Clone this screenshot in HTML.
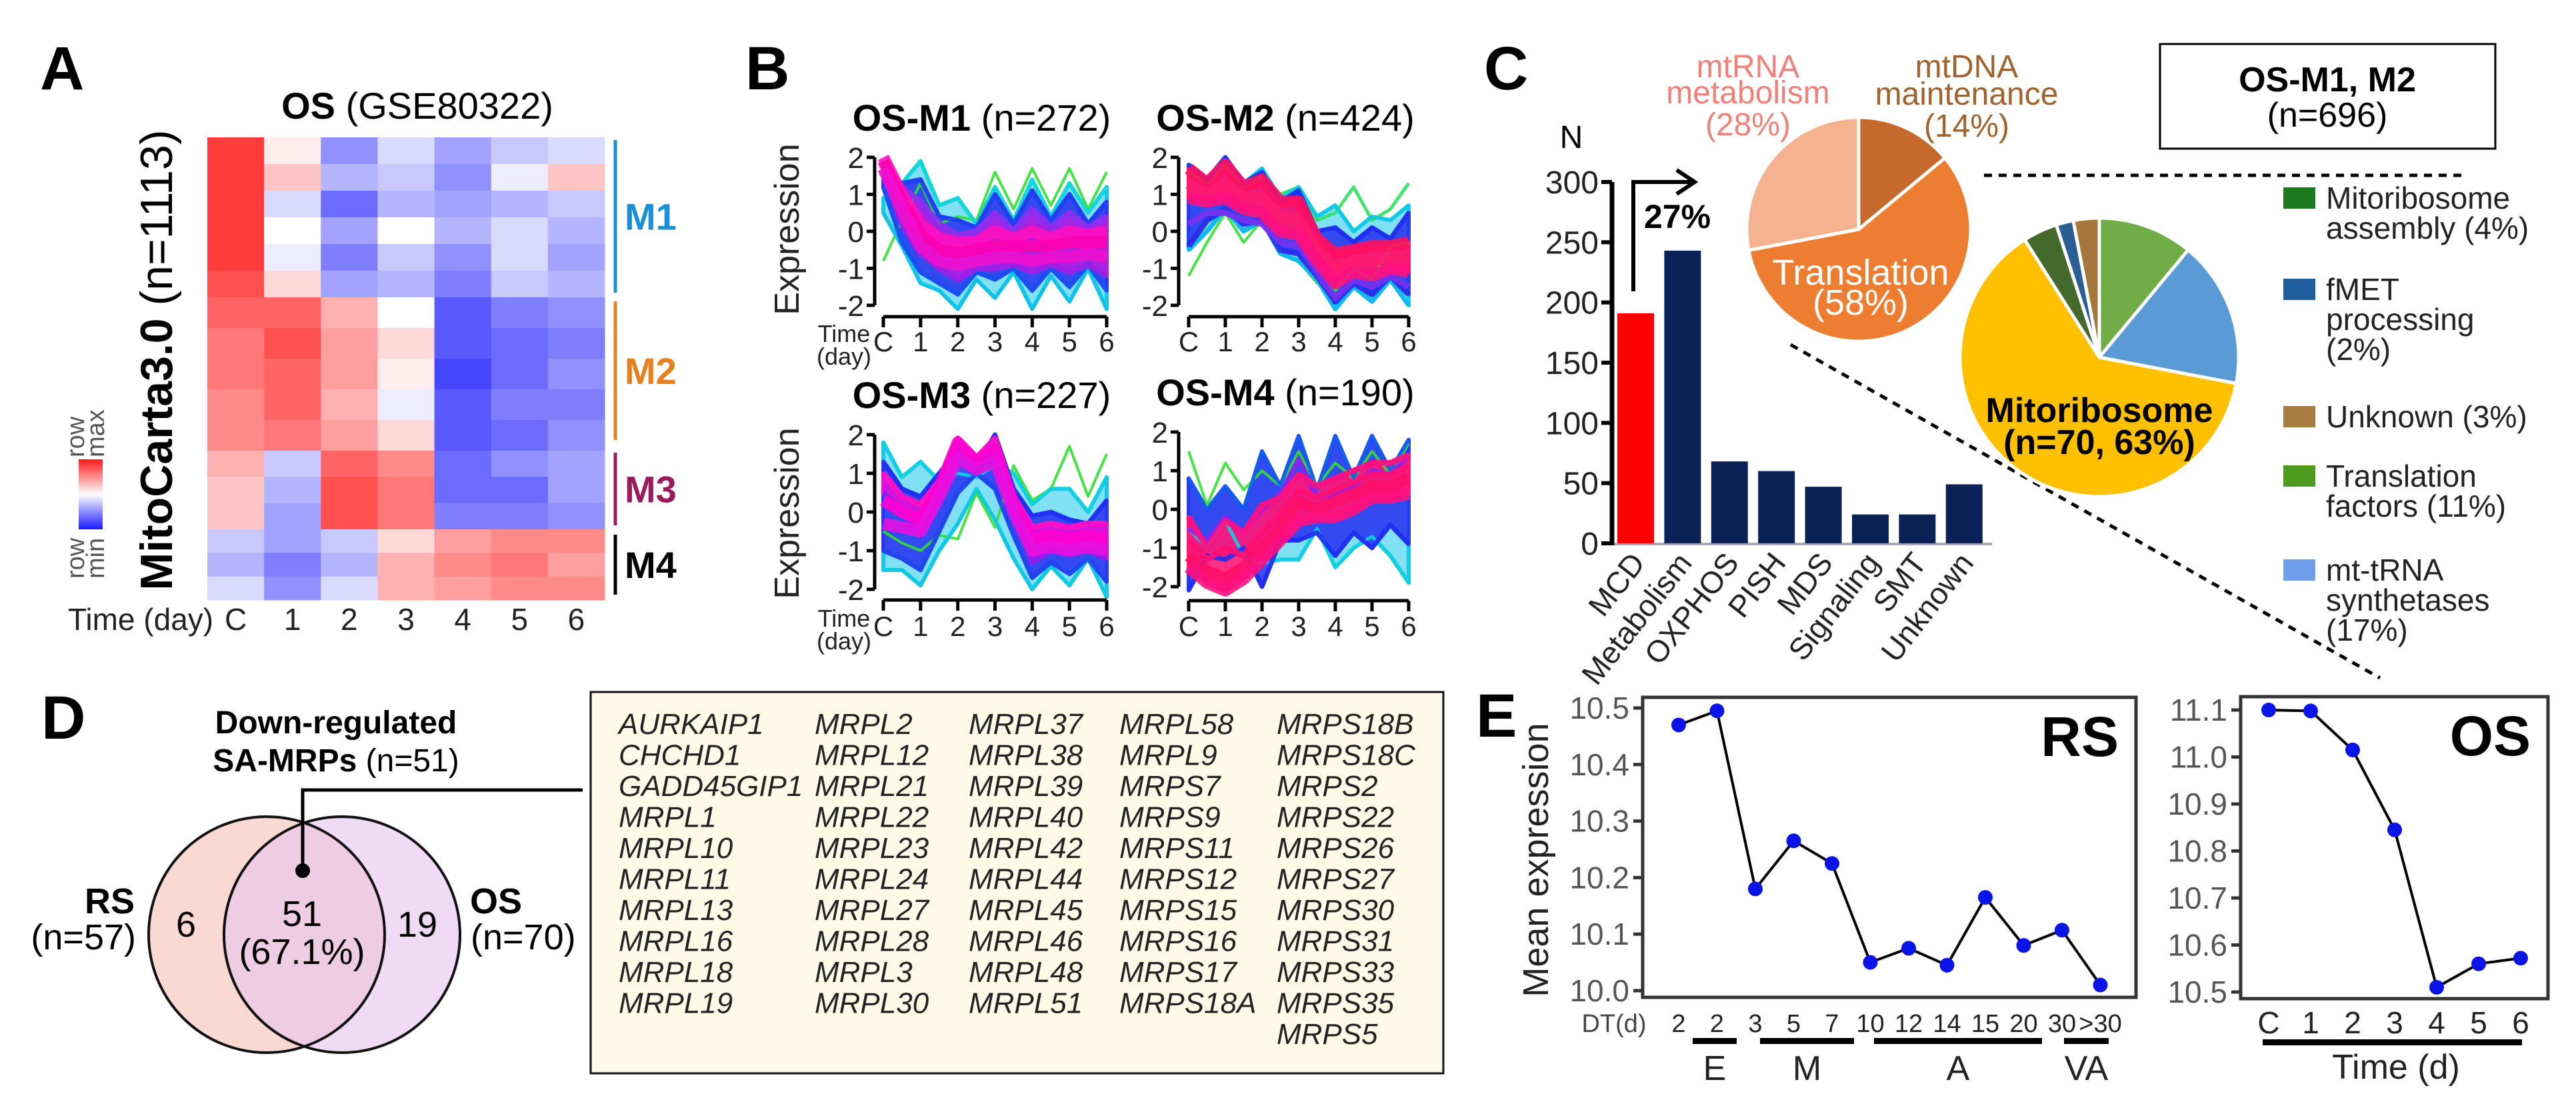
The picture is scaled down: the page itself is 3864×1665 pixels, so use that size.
<!DOCTYPE html>
<html><head><meta charset="utf-8"><title>Figure</title>
<style>
html,body{margin:0;padding:0;background:#fff;}
svg{display:block;font-family:"Liberation Sans",Arial,sans-serif;}
</style></head>
<body>
<svg id="fig" width="3864" height="1665" viewBox="0 0 3864 1665" xmlns="http://www.w3.org/2000/svg">
<defs>
<linearGradient id="cbar" x1="0" y1="0" x2="0" y2="1">
<stop offset="0" stop-color="#ff1a1a"/><stop offset="0.5" stop-color="#ffffff"/><stop offset="1" stop-color="#1a1aff"/>
</linearGradient>
</defs>
<g font-weight="bold" font-size="92" fill="#000">
<text x="60" y="134">A</text>
<text x="1118" y="134">B</text>
<text x="2226" y="134">C</text>
<text x="62" y="1108">D</text>
<text x="2214" y="1105">E</text>
</g>

<!-- PANEL A -->
<g id="panelA">
<text x="626" y="178" font-size="56" text-anchor="middle"><tspan font-weight="bold">OS</tspan> (GSE80322)</text>
<text transform="translate(258,540) rotate(-90)" font-size="68" text-anchor="middle"><tspan font-weight="bold">MitoCarta3.0</tspan> (n=1113)</text>
<rect x="118" y="689" width="36" height="105" fill="url(#cbar)"/>
<text transform="translate(126,686) rotate(-90)" font-size="38" fill="#555">row</text>
<text transform="translate(156,686) rotate(-90)" font-size="38" fill="#555">max</text>
<text transform="translate(126,868) rotate(-90)" font-size="38" fill="#555">row</text>
<text transform="translate(156,868) rotate(-90)" font-size="38" fill="#555">min</text>
<g id="hm"></g>
<text x="102" y="945" font-size="46" fill="#222">Time (day)</text>
<g id="hmTicks" font-size="46" fill="#222" text-anchor="middle"></g>
<g id="hmMods"></g>
</g>

<!-- PANEL B -->
<g id="panelB">
<text transform="translate(1198,344) rotate(-90)" font-size="52" text-anchor="middle" fill="#222">Expression</text>
<text transform="translate(1198,770) rotate(-90)" font-size="52" text-anchor="middle" fill="#222">Expression</text>
<g id="bplots"></g>
</g>

<!-- PANEL C -->
<g id="panelC">
<text x="2357" y="222" font-size="48" text-anchor="middle">N</text>
<g id="barChart"></g>
<path d="M2450 437 V273 H2538" fill="none" stroke="#000" stroke-width="6"/>
<path d="M2515 255 L2542 273 L2515 291" fill="none" stroke="#000" stroke-width="6"/>
<text x="2466" y="342" font-size="50" font-weight="bold">27%</text>
<line x1="2686" y1="517" x2="3570" y2="1017" stroke="#000" stroke-width="5" stroke-dasharray="12,10"/>
<line x1="2976" y1="263" x2="3696" y2="263" stroke="#000" stroke-width="5" stroke-dasharray="12,10"/>
<g id="pie1"></g>
<g font-size="48" text-anchor="middle" fill="#f0807a">
<text x="2622" y="116">mtRNA</text><text x="2622" y="155">metabolism</text><text x="2622" y="203">(28%)</text></g>
<g font-size="48" text-anchor="middle" fill="#a0622d">
<text x="2950" y="116">mtDNA</text><text x="2950" y="157">maintenance</text><text x="2950" y="205">(14%)</text></g>
<g font-size="54" text-anchor="middle" fill="#fff">
<text x="2791" y="427">Translation</text><text x="2791" y="472">(58%)</text></g>
<g id="pie2"></g>
<g font-size="52" font-weight="bold" text-anchor="middle">
<text x="3149" y="633">Mitoribosome</text><text x="3149" y="681">(n=70, 63%)</text></g>
<rect x="3240" y="66" width="503" height="157" fill="#fff" stroke="#000" stroke-width="3"/>
<text x="3491" y="137" font-size="52" font-weight="bold" text-anchor="middle">OS-M1, M2</text>
<text x="3491" y="190" font-size="52" text-anchor="middle">(n=696)</text>
<g id="legend" font-size="46" fill="#222"></g>
</g>

<!-- PANEL D -->
<g id="panelD">
<text x="504" y="1100" font-size="48" font-weight="bold" text-anchor="middle">Down-regulated</text>
<text x="504" y="1157" font-size="48" text-anchor="middle"><tspan font-weight="bold">SA-MRPs</tspan> (n=51)</text>
<circle cx="400" cy="1402" r="177" fill="#f7c9bd" fill-opacity="0.7"/>
<circle cx="513" cy="1402" r="177" fill="#e6c3f0" fill-opacity="0.6"/>
<circle cx="400" cy="1402" r="177" fill="none" stroke="#111" stroke-width="4"/>
<circle cx="513" cy="1402" r="177" fill="none" stroke="#111" stroke-width="4"/>
<text x="279" y="1405" font-size="54" text-anchor="middle">6</text>
<text x="626" y="1405" font-size="54" text-anchor="middle">19</text>
<text x="453" y="1389" font-size="54" text-anchor="middle">51</text>
<text x="453" y="1446" font-size="54" text-anchor="middle">(67.1%)</text>
<text x="202" y="1370" font-size="54" font-weight="bold" text-anchor="end">RS</text>
<text x="204" y="1424" font-size="54" text-anchor="end">(n=57)</text>
<text x="705" y="1370" font-size="54" font-weight="bold">OS</text>
<text x="706" y="1424" font-size="54">(n=70)</text>
<path d="M454 1306 V1185 H874" fill="none" stroke="#000" stroke-width="5"/>
<circle cx="454" cy="1306" r="11" fill="#000"/>
<rect x="886" y="1038" width="1279" height="572" fill="#fdfbe7" stroke="#111" stroke-width="3"/>
<g id="genes" font-size="44" font-style="italic" fill="#222"></g>
</g>

<!-- PANEL E -->
<g id="panelE">
<text transform="translate(2322,1290) rotate(-90)" font-size="54" text-anchor="middle" fill="#222">Mean expression</text>
<g id="rsPlot"></g>
<g id="osPlot"></g>
</g>
</svg>

<script>
// ===== DATA =====
const hmTimes = ["C","1","2","3","4","5","6"];
const hmM1 = [[1,0.1,-0.6,-0.2,-0.5,-0.3,-0.2],[1,0.3,-0.4,-0.3,-0.6,-0.1,0.3],[1,-0.2,-0.8,-0.4,-0.5,-0.4,-0.3],[1,0.0,-0.5,0.0,-0.4,-0.2,-0.4],[1,-0.1,-0.7,-0.3,-0.6,-0.2,-0.5],[0.9,0.2,-0.5,-0.4,-0.7,-0.3,-0.4]];
const hmM2 = [[0.8,0.8,0.4,0.0,-0.9,-0.7,-0.6],[0.7,0.9,0.5,0.2,-0.9,-0.8,-0.7],[0.7,0.8,0.5,0.1,-1,-0.8,-0.6],[0.6,0.8,0.4,-0.1,-0.9,-0.7,-0.7],[0.6,0.7,0.5,0.2,-0.9,-0.8,-0.6]];
const hmM3 = [[0.4,-0.3,0.8,0.6,-0.8,-0.6,-0.5],[0.3,-0.4,0.9,0.7,-0.8,-0.8,-0.5],[0.3,-0.5,0.9,0.7,-0.7,-0.7,-0.6]];
const hmM4 = [[-0.3,-0.5,-0.3,0.2,0.5,0.6,0.6],[-0.4,-0.7,-0.4,0.4,0.6,0.7,0.5],[-0.2,-0.6,-0.2,0.4,0.5,0.6,0.6]];
const moduleNames = ["M1","M2","M3","M4"];

const bTimes = [0,0.5,1,1.5,2,2.5,3,3.5,4,4.5,5,5.5,6];
const bTickLabels = ["C","1","2","3","4","5","6"];
const bYTicks = [2,1,0,-1,-2];
const b1 = [
 [-0.8,0.3,1.3,0.2,0.4,0.3,1.6,0.6,1.7,0.7,1.7,0.6,1.6],
 [0.9,1.3,1.9,0.7,0.9,0.2,1.2,0.3,1.4,0.4,1.3,0.5,1.2],
 [0.5,-0.4,-1.4,-1.6,-2.1,-1.3,-1.8,-1.1,-2.1,-1.2,-1.9,-1.0,-2.1],
 [1.4,1.3,1.4,0.4,0.3,0.1,1.0,0.2,1.1,0.3,1.0,0.2,0.8],
 [1.2,-0.3,-1.1,-1.4,-1.7,-1.1,-1.3,-1.0,-1.6,-1.0,-1.5,-0.9,-1.6],
 [1.8,1.2,0.8,0.2,-0.1,0.0,0.5,0.0,0.6,0.1,0.5,0.1,0.4],
 [1.6,0.2,-0.6,-1.0,-1.3,-1.0,-1.0,-0.9,-1.1,-0.9,-1.1,-0.9,-1.2],
 [2.0,1.0,0.2,-0.2,-0.3,-0.3,0.0,-0.2,0.0,-0.2,0.0,-0.1,0.0],
 [1.9,0.8,-0.1,-0.5,-0.6,-0.5,-0.4,-0.4,-0.4,-0.4,-0.3,-0.3,-0.3],
 [1.7,0.6,-0.4,-0.8,-0.9,-0.8,-0.7,-0.7,-0.8,-0.7,-0.7,-0.6,-0.7]];
const b2 = [
 [-1.2,-0.3,0.5,-0.3,0.3,-0.6,-0.8,-1.4,-1.6,-1.0,-1.3,-0.4,-0.3],
 [1.6,1.3,1.8,1.2,1.5,1.0,1.2,0.3,0.5,1.2,0.3,0.6,1.3],
 [1.8,1.4,2.0,1.3,1.7,0.9,1.2,0.4,0.7,0.0,0.4,0.3,0.7],
 [-0.5,0.0,0.6,0.0,0.3,-0.6,-0.8,-1.3,-2.1,-1.5,-1.9,-1.3,-2.0],
 [1.8,1.4,2.0,1.3,1.6,0.8,1.1,0.0,0.1,-0.3,0.1,-0.2,0.5],
 [-0.4,0.3,0.6,0.2,0.3,-0.5,-0.6,-1.2,-1.9,-1.4,-1.7,-1.2,-1.7],
 [0.2,0.5,0.5,0.3,0.2,-0.3,-0.4,-1.1,-1.8,-1.3,-1.5,-1.2,-1.5],
 [1.7,1.3,1.8,1.2,1.4,0.8,0.8,-0.2,-0.6,-0.5,-0.4,-0.4,-0.3],
 [1.3,1.0,1.3,0.9,0.9,0.4,0.3,-0.5,-1.0,-0.8,-0.8,-0.7,-0.7],
 [0.9,0.8,0.9,0.6,0.5,0.0,-0.1,-0.8,-1.4,-1.1,-1.2,-1.0,-1.1]];
const b3 = [
 [-0.5,-0.8,-1.0,-0.6,-0.7,0.5,-0.4,1.2,0.3,0.6,1.7,0.4,1.5],
 [1.8,0.9,1.3,0.8,1.0,0.9,1.2,1.0,0.2,0.6,0.6,0.0,0.9],
 [-1.5,-1.5,-1.9,-1.0,-0.3,0.6,-0.2,-1.2,-2.0,-1.4,-1.9,-1.2,-2.2],
 [1.3,0.6,0.4,1.0,1.6,1.2,2.0,0.6,-0.1,0.0,-0.2,-0.3,0.3],
 [-1.0,-1.2,-1.5,-0.5,0.5,1.0,0.6,-0.6,-1.7,-1.3,-1.6,-1.2,-1.8],
 [0.5,0.0,-0.6,0.3,1.5,1.3,1.8,0.2,-1.3,-1.0,-1.1,-1.0,-1.2],
 [1.0,0.4,0.2,0.8,1.9,1.4,1.9,0.4,-0.4,-0.3,-0.4,-0.3,-0.3],
 [0.3,0.0,-0.2,0.6,1.8,1.3,1.6,0.2,-0.7,-0.6,-0.7,-0.6,-0.7],
 [-0.3,-0.4,-0.5,0.4,1.4,1.1,1.3,0.0,-1.0,-0.9,-1.0,-0.9,-1.0]];
const b4 = [
 [1.5,0.1,1.2,0.5,1.0,0.6,1.5,0.6,1.2,0.8,1.5,0.9,1.7],
 [-0.5,-1.0,-0.3,-1.2,-1.4,-1.3,-1.3,-0.5,-1.5,-1.0,-0.7,-1.2,-1.9],
 [0.8,0.0,0.6,0.0,1.5,0.6,1.9,0.5,1.9,0.8,1.9,1.0,1.8],
 [-2.1,-1.2,-1.3,-1.0,-2.0,-0.8,-0.8,-0.6,-1.2,-0.6,-1.0,-0.4,-0.9],
 [-0.5,-0.8,-0.2,-0.6,0.0,0.4,1.3,0.3,0.4,0.6,1.0,0.9,1.4],
 [-0.2,-1.0,-0.3,-0.6,0.1,0.3,0.9,0.6,0.8,1.0,1.2,1.2,1.4],
 [-0.8,-1.3,-1.0,-1.2,-0.6,-0.1,0.5,0.3,0.5,0.7,0.9,0.9,1.1],
 [-1.2,-1.6,-1.8,-1.5,-1.0,-0.5,0.2,0.0,0.2,0.4,0.6,0.6,0.8],
 [-1.5,-1.9,-2.1,-1.8,-1.3,-0.8,-0.3,-0.2,-0.2,0.0,0.3,0.3,0.4]];
const bTitles = ["OS-M1","OS-M2","OS-M3","OS-M4"];
const bCounts = ["(n=272)","(n=424)","(n=227)","(n=190)"];

const barCats = ["MCD","Metabolism","OXPHOS","PISH","MDS","Signaling","SMT","Unknown"];
const barVals = [191,243,68,60,47,24,24,49];
const barTicks = [0,50,100,150,200,250,300];
const pie1Names = ["mtDNA maintenance","Translation","mtRNA metabolism"];
const pie1Pct = [14,58,28];
const pie2Names = ["Translation factors","mt-tRNA synthetases","Mitoribosome","Mitoribosome assembly","fMET processing","Unknown"];
const pie2Pct = [11,17,63,4,2,3];
const legendNames = [["Mitoribosome","assembly (4%)"],["fMET","processing","(2%)"],["Unknown (3%)"],["Translation","factors (11%)"],["mt-tRNA","synthetases","(17%)"]];

const geneCols = [
 ["AURKAIP1","CHCHD1","GADD45GIP1","MRPL1","MRPL10","MRPL11","MRPL13","MRPL16","MRPL18","MRPL19"],
 ["MRPL2","MRPL12","MRPL21","MRPL22","MRPL23","MRPL24","MRPL27","MRPL28","MRPL3","MRPL30"],
 ["MRPL37","MRPL38","MRPL39","MRPL40","MRPL42","MRPL44","MRPL45","MRPL46","MRPL48","MRPL51"],
 ["MRPL58","MRPL9","MRPS7","MRPS9","MRPS11","MRPS12","MRPS15","MRPS16","MRPS17","MRPS18A"],
 ["MRPS18B","MRPS18C","MRPS2","MRPS22","MRPS26","MRPS27","MRPS30","MRPS31","MRPS33","MRPS35","MRPS5"]];

const rsLabels = ["2","2","3","5","7","10","12","14","15","20","30",">30"];
const rsVals = [10.47,10.495,10.18,10.265,10.225,10.05,10.075,10.045,10.165,10.08,10.107,10.01];
const rsTicks = [10.0,10.1,10.2,10.3,10.4,10.5];
const osLabels = ["C","1","2","3","4","5","6"];
const osVals = [11.10,11.098,11.015,10.845,10.51,10.56,10.572];
const osTicks = [10.5,10.6,10.7,10.8,10.9,11.0,11.1];

// ===== DRAW =====
const NS="http://www.w3.org/2000/svg";
function mk(tag,attrs,parent){const e=document.createElementNS(NS,tag);for(const k in attrs)e.setAttribute(k,attrs[k]);parent.appendChild(e);return e;}

(function(){
 const g=document.getElementById('hm');
 const x0=311,x1=907,cw=(x1-x0)/7;
 const mods=[hmM1,hmM2,hmM3,hmM4];
 const spans=[[206,446],[446,676],[676,794],[794,900]];
 function col(v){
  let r,gg,b;
  if(v>=0){r=255;gg=Math.round(255-(255-60)*v);b=gg;}else{const t=-v;r=Math.round(255-(255-70)*t);gg=r;b=255;}
  return `rgb(${r},${gg},${b})`;}
 mods.forEach((m,mi)=>{
  const [ys,ye]=spans[mi];const bh=(ye-ys)/m.length;
  m.forEach((row,ri)=>{row.forEach((v,ci)=>{
   const r=mk('rect',{x:x0+ci*cw,y:ys+ri*bh,width:cw+0.5,height:bh+0.5,fill:col(v)},g);
   
   
  });});
 });
 const t=document.getElementById('hmTicks');
 hmTimes.forEach((s,i)=>{const e=mk('text',{x:x0+cw*(i+0.5),y:945},t);e.textContent=s;
  
  });
 const mg=document.getElementById('hmMods');
 const bars=[[210,439,"#1a8fd6"],[452,660,"#e8801e"],[679,788,"#9a1a5c"],[802,892,"#000"]];
 bars.forEach((b,i)=>{
  const l=mk('line',{x1:923,x2:923,y1:b[0],y2:b[1],stroke:b[2],'stroke-width':5},mg);
  
  
  const tx=mk('text',{x:937,y:(b[0]+b[1])/2+20,'font-size':56,'font-weight':'bold',fill:b[2]},mg);
  tx.textContent=moduleNames[i];
  
  
 });
})();

(function(){
 const root=document.getElementById('bplots');
 const sets=[b1,b2,b3,b4];
 const geo=[{ax:1312,x0:1325,x1:1660,yt:236,yb:458,xa:475,tl:515},
            {ax:1768,x0:1783,x1:2113,yt:236,yb:458,xa:475,tl:515},
            {ax:1312,x0:1325,x1:1660,yt:652,yb:884,xa:900,tl:942},
            {ax:1768,x0:1783,x1:2113,yt:648,yb:880,xa:901,tl:942}];
 const cols=[["#30e030","#10d8d8","#10c0e8","#2040f0","#1a50f0","#8a30f0","#9a20e8","#ff10c0","#ff00b0","#f010d0"],
             ["#30e030","#30e060","#10c8e8","#10b8f0","#2030f0","#2a30e8","#7a30f0","#ff1060","#ff1a70","#ff1080"],
             ["#30e030","#10d0e0","#10c8e0","#2030f0","#2048f0","#8a20f0","#ff10c8","#ff00d0","#e810e0"],
             ["#30e030","#10d0e0","#1060f0","#2030f0","#9020f0","#ff1080","#ff1070","#ff1068","#ff1080"]];
 // envelope index pairs [hi, lo] for filled bands: outer (cyan), mid (blue), inner (core)
 const bandIdx=[[[1,2],[3,4],[5,6]],[[2,3],[4,5],[7,9]],[[1,2],[3,4],[6,5]],[[2,1],[2,3],[5,8]]];
 const bandCol=[["#18c8ec","#2a3af0","#b020e0"],["#18c8ec","#2a3af0","#ff1a70"],["#18c8ec","#2a3af0","#e010d8"],["#18c8ec","#2a3af0","#ff1878"]];
 const widths=[4,5,5,7,7,9,9,18,18,18];
 sets.forEach((set,k)=>{
  const G=geo[k];
  const g=mk('g',{},root);
  
  
  const xs=t=>G.x0+(G.x1-G.x0)*t/6;
  const ys=v=>G.yt+(G.yb-G.yt)*(2-v)/4;
  const tt=mk('text',{x:(G.x0+G.x1)/2-20,y:G.yt-40,'font-size':56,'text-anchor':'middle'},g);
  tt.innerHTML='<tspan font-weight="bold">'+bTitles[k]+'</tspan> '+bCounts[k];
  
  
  bandIdx[k].forEach((pr,bi)=>{
   const hi=set[pr[0]],lo=set[pr[1]];
   const up=hi.map((v,j)=>xs(bTimes[j]).toFixed(1)+' '+ys(Math.max(v,lo[j])).toFixed(1));
   const dn=lo.map((v,j)=>xs(bTimes[j]).toFixed(1)+' '+ys(Math.min(v,hi[j])).toFixed(1)).reverse();
   const a=mk('path',{d:'M'+up.join(' L')+' L'+dn.join(' L')+' Z',fill:bandCol[k][bi],'fill-opacity':bi===0?0.55:0.9,stroke:bandCol[k][bi],'stroke-width':6,'stroke-linejoin':'round'},g);
   
   
  });
  set.forEach((prof,i)=>{
   const d=prof.map((v,j)=>(j?'L':'M')+xs(bTimes[j]).toFixed(1)+' '+ys(v).toFixed(1)).join(' ');
   const nw=widths[i]||16;
   const p=mk('path',{d:d,fill:'none',stroke:cols[k][i],'stroke-width':nw,'stroke-linejoin':'round','stroke-opacity':0.9},g);
   
   
  });
  mk('line',{x1:G.ax,x2:G.ax,y1:G.yt,y2:G.yb,stroke:'#000','stroke-width':5},g);
  bYTicks.forEach(v=>{
   mk('line',{x1:G.ax-12,x2:G.ax,y1:ys(v),y2:ys(v),stroke:'#000','stroke-width':5},g);
   const e=mk('text',{x:G.ax-16,y:ys(v)+16,'font-size':44,'text-anchor':'end',fill:'#222'},g);
   e.textContent=v;
   
   
  });
  mk('line',{x1:G.x0,x2:G.x1,y1:G.xa,y2:G.xa,stroke:'#000','stroke-width':5},g);
  bTickLabels.forEach((s,i)=>{
   mk('line',{x1:xs(i),x2:xs(i),y1:G.xa,y2:G.xa+16,stroke:'#000','stroke-width':5},g);
   const e=mk('text',{x:xs(i),y:G.tl+12,'font-size':42,'text-anchor':'middle',fill:'#222'},g);
   e.textContent=s;
   
   
  });
  if(k%2===0){
   const a=mk('text',{x:1266,y:G.tl-2,'font-size':36,'text-anchor':'middle',fill:'#222'},g);a.textContent='Time';
   
   
   const b=mk('text',{x:1266,y:G.tl+32,'font-size':36,'text-anchor':'middle',fill:'#222'},g);b.textContent='(day)';
   
   
  }
 });
})();

(function(){
 const g=document.getElementById('barChart');
 const y0=815,yTop=273,ax=2418,bx0=2426,pitch=70.4,bw=55;
 const ys=v=>y0-(y0-yTop)*v/300;
 mk('line',{x1:ax,x2:2988,y1:y0+1,y2:y0+1,stroke:'#aab',"stroke-width":4},g);
 barVals.forEach((v,i)=>{
  const r=mk('rect',{x:bx0+i*pitch,y:ys(v),width:bw,height:y0-ys(v),fill:i===0?'#ff0000':'#0c2257'},g);
  
  
  const cx=bx0+i*pitch+bw/2+16;
  const t=mk('text',{x:0,y:0,'font-size':46,'text-anchor':'end',fill:'#222',transform:`translate(${cx},${y0+30}) rotate(-52)`},g);
  t.textContent=barCats[i];
  
  
 });
 mk('line',{x1:ax,x2:ax,y1:yTop,y2:y0+3,stroke:'#000','stroke-width':7},g);
 barTicks.forEach(v=>{
  mk('line',{x1:ax-16,x2:ax,y1:ys(v),y2:ys(v),stroke:'#000','stroke-width':6},g);
  const t=mk('text',{x:ax-20,y:ys(v)+17,'font-size':48,'text-anchor':'end',fill:'#222'},g);
  t.textContent=v;
  
  
 });
})();

function pie(gid,cx,cy,r,pcts,colors,names){
 const g=document.getElementById(gid);
 let a=0;const tot=pcts.reduce((s,v)=>s+v,0);
 pcts.forEach((p,i)=>{
  const a0=a/tot*2*Math.PI;a+=p;const a1=a/tot*2*Math.PI;
  const x0=cx+r*Math.sin(a0),y0=cy-r*Math.cos(a0),x1=cx+r*Math.sin(a1),y1=cy-r*Math.cos(a1);
  const large=(a1-a0)>Math.PI?1:0;
  const path=mk('path',{d:`M${cx} ${cy} L${x0} ${y0} A${r} ${r} 0 ${large} 1 ${x1} ${y1} Z`,fill:colors[i],stroke:'#fff','stroke-width':5},g);
  
  
 });
}
pie('pie1',2788,344,168,pie1Pct,['#c5692c','#ed7d31','#f4b38e'],pie1Names);
pie('pie2',3149,536,209,pie2Pct,['#70ad47','#5b9bd5','#ffc000','#44692c','#2a5f95','#a5773c'],pie2Names);

(function(){
 const g=document.getElementById('legend');
 const cols=['#1e7a1e','#1f5fa0','#a87b40','#4e9a1e','#6d9eeb'];
 const sq=[281,418,609,698,839];
 legendNames.forEach((lines,i)=>{
  const r=mk('rect',{x:3425,y:sq[i],width:48,height:32,fill:cols[i]},g);
  
  
  lines.forEach((s,j)=>{
   const t=mk('text',{x:3489,y:sq[i]+32+j*45},g);t.textContent=s;
   
   
  });
 });
})();

(function(){
 const g=document.getElementById('genes');
 const cx=[928,1222,1453,1679,1915];
 geneCols.forEach((c,ci)=>c.forEach((s,ri)=>{
  const t=mk('text',{x:cx[ci],y:1101+ri*46.5},g);t.textContent=s;
  
  
 }));
})();

function linePlot(gid,box,xs,ys,vals,labels,ticks,tickFmt,title,lfs){
 const g=document.getElementById(gid);
 const pts=vals.map((v,i)=>[xs(i),ys(v)]);
 mk('rect',{x:box[0],y:box[1],width:box[2]-box[0],height:box[3]-box[1],fill:'none',stroke:'#333','stroke-width':5},g);
 ticks.forEach(v=>{
  mk('line',{x1:box[0]-14,x2:box[0],y1:ys(v),y2:ys(v),stroke:'#333','stroke-width':5},g);
  const t=mk('text',{x:box[0]-20,y:ys(v)+16,'font-size':46,'text-anchor':'end',fill:'#555'},g);
  t.textContent=tickFmt(v);
  
  
 });
 const p=mk('path',{d:pts.map((q,i)=>(i?'L':'M')+q[0]+' '+q[1]).join(' '),fill:'none',stroke:'#000','stroke-width':4},g);
 
 
 pts.forEach(q=>{const c=mk('circle',{cx:q[0],cy:q[1],r:11,fill:'#0a14e6'},g);
  
  });
 labels.forEach((s,i)=>{const t=mk('text',{x:xs(i),y:box[3]+52,'font-size':lfs,'text-anchor':'middle',fill:'#222'},g);t.textContent=s;
  
  });
 const tt=mk('text',{x:box[2]-26,y:box[1]+88,'font-size':84,'font-weight':'bold','text-anchor':'end'},g);tt.textContent=title;
 
 
}
linePlot('rsPlot',[2464,1046,3204,1496],i=>2518+i*57.5,v=>1486-(v-10)*848,rsVals,rsLabels,rsTicks,v=>v.toFixed(1),'RS',38);
linePlot('osPlot',[3361,1045,3822,1498],i=>3403+i*63,v=>1488-(v-10.5)*705,osVals,osLabels,osTicks,v=>v.toFixed(1),'OS',46);
(function(){
 const g=document.getElementById('rsPlot');
 const t=mk('text',{x:2421,y:1548,'font-size':38,'text-anchor':'middle',fill:'#444'},g);t.textContent='DT(d)';
 
 
 const groups=[[2539,2605,'E'],[2640,2781,'M'],[2811,3063,'A'],[3096,3163,'VA']];
 groups.forEach(q=>{mk('rect',{x:q[0],y:1557,width:q[1]-q[0],height:9,fill:'#000'},g);
  const e=mk('text',{x:(q[0]+q[1])/2,y:1620,'font-size':52,'text-anchor':'middle',fill:'#222'},g);e.textContent=q[2];
  
  });
 const g2=document.getElementById('osPlot');
 mk('rect',{x:3394,y:1559,width:389,height:9,fill:'#000'},g2);
 const o=mk('text',{x:3594,y:1618,'font-size':52,'text-anchor':'middle',fill:'#222'},g2);o.textContent='Time (d)';
 
 
})();
</script>
</body></html>
